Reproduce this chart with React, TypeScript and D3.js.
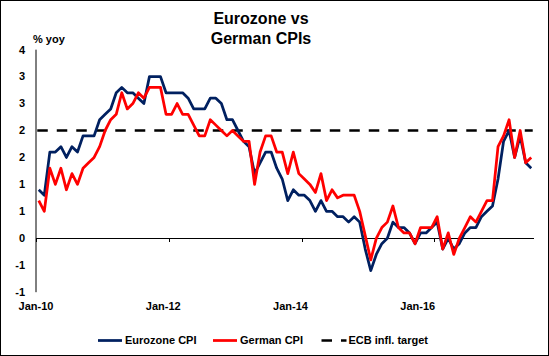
import React from "react";
import * as d3 from "d3";

// Monthly, Jan-2010 .. Jun-2017 (% yoy)
const eurozoneCPI = [
  0.9, 0.8, 1.6, 1.6, 1.7, 1.5, 1.7, 1.6, 1.9, 1.9, 1.9, 2.2,
  2.3, 2.4, 2.7, 2.8, 2.7, 2.7, 2.6, 2.5, 3.0, 3.0, 3.0, 2.7,
  2.7, 2.7, 2.7, 2.6, 2.4, 2.4, 2.4, 2.6, 2.6, 2.5, 2.2, 2.2,
  2.0, 1.8, 1.7, 1.2, 1.4, 1.6, 1.6, 1.3, 1.1, 0.7, 0.9, 0.8,
  0.8, 0.7, 0.5, 0.7, 0.5, 0.5, 0.4, 0.4, 0.3, 0.4, 0.3, -0.2,
  -0.6, -0.3, -0.1, 0.0, 0.3, 0.2, 0.2, 0.1, -0.1, 0.1, 0.1, 0.2,
  0.3, -0.2, 0.0, -0.2, -0.1, 0.1, 0.2, 0.2, 0.4, 0.5, 0.6, 1.1,
  1.8, 2.0, 1.5, 1.9, 1.4, 1.3,
];
const germanCPI = [
  0.7, 0.5, 1.3, 1.0, 1.3, 0.9, 1.2, 1.0, 1.3, 1.4, 1.5, 1.7,
  2.0, 2.2, 2.3, 2.7, 2.4, 2.5, 2.7, 2.6, 2.8, 2.8, 2.8, 2.3,
  2.3, 2.5, 2.3, 2.3, 2.1, 1.9, 1.9, 2.2, 2.1, 2.0, 1.9, 2.0,
  1.9, 1.8, 1.8, 1.0, 1.6, 1.9, 1.9, 1.6, 1.6, 1.2, 1.6, 1.2,
  1.1, 1.0, 0.85, 1.2, 0.7, 0.9, 0.75, 0.8, 0.8, 0.8, 0.5, 0.05,
  -0.4, 0.0, 0.2, 0.3, 0.6, 0.2, 0.1, 0.1, -0.1, 0.2, 0.2, 0.2,
  0.4, -0.2, 0.1, -0.3, 0.0, 0.2, 0.4, 0.3, 0.5, 0.7, 0.7, 1.7,
  1.9, 2.2, 1.5, 2.0, 1.4, 1.5,
];
const ecbTarget = 2;
const yTickValues = [3.5, 3, 2.5, 2, 1.5, 1, 0.5, 0, -0.5, -1];
const yTickLabels = ["4", "3", "3", "2", "2", "1", "1", "0", "-1", "-1"];
const xTickLabels = ["Jan-10", "Jan-12", "Jan-14", "Jan-16"];
const tickInterval = 24;
const labelInterval = 23;
const titleLines = ["Eurozone vs", "German CPIs"];
const seriesNames = ["Eurozone CPI", "German CPI", "ECB infl. target"];

const W = 549;
const H = 356;
const FONT = "Liberation Sans, Arial, sans-serif";
const BLUE = "#002060";
const RED = "#FF0000";

export default function App() {
  const n = eurozoneCPI.length;
  const idx = d3.range(n);
  const xb = d3.scaleBand<number>().domain(d3.range(90)).range([36, 534]);
  const bw = xb.bandwidth();
  const xc = (i: number) => (xb(i) as number) + bw / 2;
  const y = d3.scaleLinear().domain([0, 2]).range([238.3, 130.5]);

  const line = d3
    .line<number>()
    .x((_, i) => xc(i))
    .y((d) => y(d))
    .curve(d3.curveLinear);

  const tickIdx = d3.range(0, 90, tickInterval);
  const dash = "10.5,9";

  return (
    <svg
      width={W}
      height={H}
      style={{ position: "absolute", left: 0, top: 0, display: "block" }}
      fontFamily={FONT}
    >
      <rect x={0} y={0} width={W} height={H} fill="#fff" />
      <rect x={0.5} y={0.5} width={W - 1} height={H - 1} fill="none" stroke="#000" strokeWidth={1} />

      {titleLines.map((t, i) => (
        <text key={t} x={261} y={24 + i * 20} textAnchor="middle" fontSize={16} fontWeight="bold">
          {t}
        </text>
      ))}
      <text x={33} y={43} fontSize={11} fontWeight="bold">% yoy</text>

      {/* y axis */}
      <line x1={36} x2={36} y1={y(3.5)} y2={y(-1)} stroke="#000" strokeWidth={1} />
      {yTickValues.map((v, i) => (
        <text key={i} x={25} y={y(v)} dy="0.35em" textAnchor="end" fontSize={11} fontWeight="bold">
          {yTickLabels[i]}
        </text>
      ))}

      {/* x axis at zero */}
      <line x1={36} x2={534} y1={Math.round(y(0)) + 0.5} y2={Math.round(y(0)) + 0.5} stroke="#000" strokeWidth={1} />
      {tickIdx.map((i) => (
        <line
          key={i}
          x1={Math.round(xb(i) as number) + 0.5}
          x2={Math.round(xb(i) as number) + 0.5}
          y1={Math.round(y(0)) + 0.5}
          y2={Math.round(y(0)) + 4}
          stroke="#000"
          strokeWidth={1}
        />
      ))}
      {xTickLabels.map((l, k) => (
        <text key={l} x={xb(k * labelInterval) as number} y={310} textAnchor="middle" fontSize={11} fontWeight="bold">
          {l}
        </text>
      ))}

      {/* ECB target */}
      <line
        x1={xc(0) - 1.5}
        x2={xc(n - 1) + 1.5}
        y1={y(ecbTarget)}
        y2={y(ecbTarget)}
        stroke="#000"
        strokeWidth={2.5}
        strokeDasharray={dash}
      />

      <path d={line(eurozoneCPI) || ""} fill="none" stroke={BLUE} strokeWidth={2.75} strokeLinejoin="round" />
      <path d={line(germanCPI) || ""} fill="none" stroke={RED} strokeWidth={2.75} strokeLinejoin="round" />

      {/* legend */}
      <g fontSize={11} fontWeight="bold">
        <line x1={98} x2={122} y1={340.5} y2={340.5} stroke={BLUE} strokeWidth={2.75} />
        <text x={125} y={340.5} dy="0.35em">{seriesNames[0]}</text>
        <line x1={213} x2={237} y1={340.5} y2={340.5} stroke={RED} strokeWidth={2.75} />
        <text x={240} y={340.5} dy="0.35em">{seriesNames[1]}</text>
        <line x1={321.5} x2={346.5} y1={340.5} y2={340.5} stroke="#000" strokeWidth={2.5} strokeDasharray={dash} />
        <text x={348.5} y={340.5} dy="0.35em">{seriesNames[2]}</text>
      </g>
    </svg>
  );
}
